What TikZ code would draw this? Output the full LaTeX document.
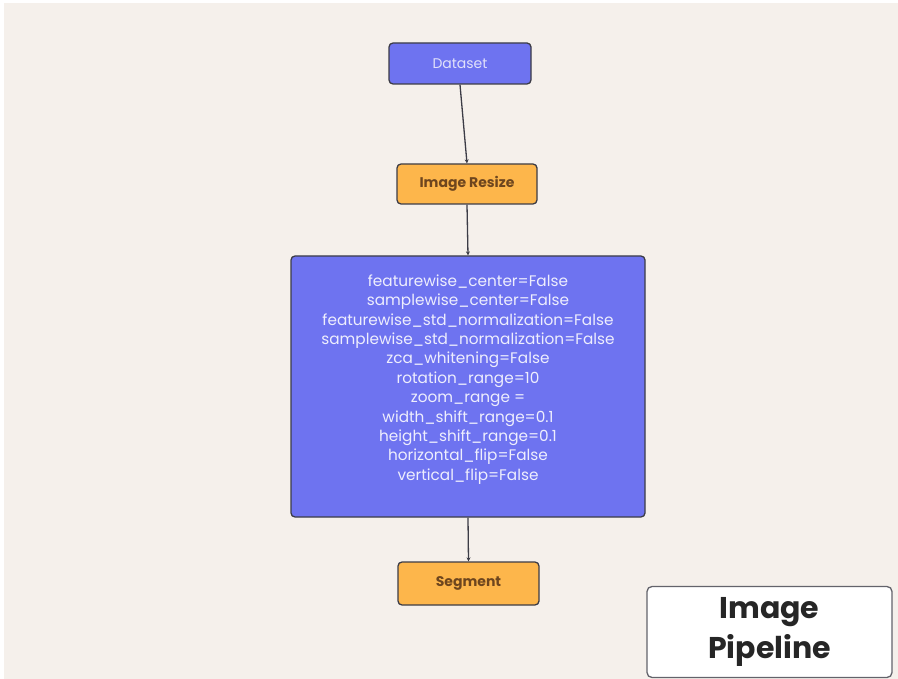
\documentclass[tikz,border=0pt]{standalone}
\usepackage{fontspec}
\setmainfont{Poppins}
\usetikzlibrary{arrows.meta}
\definecolor{bg}{RGB}{245,240,235}
\definecolor{bluebox}{RGB}{110,115,240}
\definecolor{orangebox}{RGB}{253,182,75}
\definecolor{edge}{RGB}{60,60,70}
\definecolor{bluetext}{RGB}{225,225,250}
\definecolor{orangetext}{RGB}{110,70,30}
\tikzset{
  bluenode/.style={draw=edge, line width=1.3pt, fill=bluebox, rounded corners=4pt, text=bluetext, inner sep=0pt},
  orangenode/.style={draw=edge, line width=1.3pt, fill=orangebox, rounded corners=4pt, text=orangetext, inner sep=0pt, font=\fontsize{14}{16}\selectfont\bfseries},
  conn/.style={draw=edge, line width=1.3pt, -{Stealth[length=4pt,width=4pt]}},
}
\begin{document}
\begin{tikzpicture}[x=1pt,y=-1pt]
\useasboundingbox (0,0) rectangle (898,679);
\fill[white] (0,0) rectangle (898,679);
\fill[bg] (4,3) rectangle (898,679);
\node[bluenode, minimum width=142pt, minimum height=41pt, font=\fontsize{14}{16}\selectfont] (ds) at (460,63.5) {Dataset};
\node[orangenode, minimum width=140pt, minimum height=40pt] (rs) at (467,184) {Image Resize};
\node[bluenode, minimum width=354pt, minimum height=261pt] (aug) at (468,386.5) {};
\node[align=center, text=white!88!bluebox, font=\fontsize{15.3}{19.4}\selectfont, anchor=north] (augtext) at (468,271)
{featurewise\_center=False\\
samplewise\_center=False\\
featurewise\_std\_normalization=False\\
samplewise\_std\_normalization=False\\
zca\_whitening=False\\
rotation\_range=10\\
zoom\_range =\\
width\_shift\_range=0.1\\
height\_shift\_range=0.1\\
horizontal\_flip=False\\
vertical\_flip=False};
\node[orangenode, minimum width=141pt, minimum height=43pt] (sg) at (468.5,583.5) {Segment};
\node[draw=edge!80, line width=1.3pt, fill=white, rounded corners=5pt, minimum width=245pt, minimum height=91pt, align=center,
  font=\fontsize{30}{40}\selectfont\bfseries, text=black!85] (title) at (769.5,632) {Image\\Pipeline};
\draw[conn] (ds.south) -- (rs.north);
\draw[conn] (rs.south) -- (aug.north);
\draw[conn] (aug.south) -- (sg.north);
\end{tikzpicture}
\end{document}
